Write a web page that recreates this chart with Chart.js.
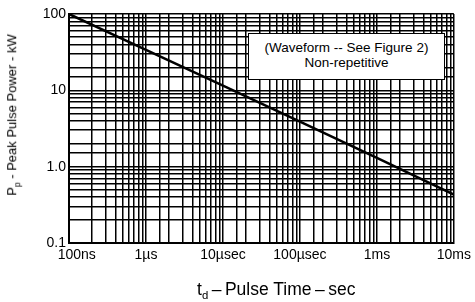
<!DOCTYPE html>
<html lang="en">
<head>
  <meta charset="UTF-8" />
  <title>Peak Pulse Power vs Pulse Time</title>
  <script src="https://cdn.jsdelivr.net/npm/chart.js"></script>
  <style>
    body { margin: 0; background: #fff; }
    #wrap { position: relative; width: 475px; height: 302px; font-family: "Liberation Sans", Arial, sans-serif; color: #000; }
    #ytitle { position: absolute; left: 13px; top: 115px; transform: translate(-50%, -50%) rotate(-90deg); white-space: nowrap; font-size: 13px; }
    #xtitle { position: absolute; left: 197px; top: 290px; transform: translateY(-50%); white-space: nowrap; font-size: 17.5px; }
    #note { position: absolute; left: 248px; top: 33px; width: 197px; height: 47px; background: #fff; border: 1.5px solid #000; text-align: center; font-size: 13.5px; line-height: 15px; padding-top: 6px; box-sizing: border-box; }
    sub { font-size: 65%; }
  </style>
</head>
<body>
  <div id="wrap">
    <canvas id="grafico" width="475" height="302"></canvas>
    <div id="ytitle">P<sub>p</sub> - Peak Pulse Power - kW</div>
    <div id="xtitle">t<sub>d</sub>&thinsp;–&thinsp;Pulse Time&thinsp;–&thinsp;sec</div>
    <div id="note">(Waveform -- See Figure 2)<br>Non-repetitive</div>
  </div>

  <script>
    // pulse time (s) and peak pulse power (kW)
    const pulseTimes = [1e-7, 1e-6, 1e-5, 1e-4, 1e-3, 1e-2];
    const peakPower = [100, 34, 11.5, 3.9, 1.3, 0.43];

    const xTickValues = [1e-7, 1e-6, 1e-5, 1e-4, 1e-3, 1e-2];
    const xTickLabels = ["    100ns", "1µs", "10µsec", "100µsec", "1ms", "10ms"];
    const yTickValues = [0.1, 1, 10, 100];
    const yTickLabels = ["0.1", "1.0", "10", "100"];

    function labelFor(value, values, labels) {
      for (let i = 0; i < values.length; i++) {
        if (Math.abs(Math.log10(value) - Math.log10(values[i])) < 1e-6) return labels[i];
      }
      return "";
    }

    const gridStyle = { color: "#000", lineWidth: 1.5, drawTicks: false };
    const tickFont = { family: "Liberation Sans", size: 14 };

    new Chart(document.getElementById("grafico"), {
      type: "line",
      data: {
        datasets: [{
          data: pulseTimes.map((t, i) => ({ x: t, y: peakPower[i] })),
          borderColor: "#000",
          borderWidth: 2.5,
          pointRadius: 0,
          tension: 0
        }]
      },
      options: {
        responsive: false,
        animation: false,
        devicePixelRatio: 1,
        layout: { padding: { left: 22, top: 14, right: 17, bottom: 39 } },
        plugins: { legend: { display: false }, tooltip: { enabled: false } },
        scales: {
          x: {
            type: "logarithmic",
            min: 1e-7,
            max: 1e-2,
            grid: gridStyle,
            border: { color: "#000", width: 2 },
            ticks: {
              autoSkip: false,
              maxRotation: 0,
              padding: 4,
              color: "#000",
              font: tickFont,
              callback: v => labelFor(v, xTickValues, xTickLabels)
            },
            afterFit: s => { s.height = 20; }
          },
          y: {
            type: "logarithmic",
            min: 0.1,
            max: 100,
            grid: gridStyle,
            border: { color: "#000", width: 2 },
            ticks: {
              autoSkip: false,
              padding: 3,
              color: "#000",
              font: tickFont,
              callback: v => labelFor(v, yTickValues, yTickLabels)
            },
            afterFit: s => { s.width = 47; }
          }
        }
      }
    });
  </script>
</body>
</html>
